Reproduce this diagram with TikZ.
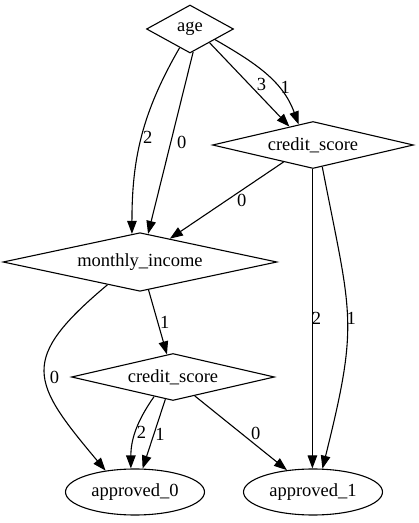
\documentclass[tikz,border=0pt]{standalone}
\usepackage{fontspec}
\setmainfont{Liberation Serif}
\usetikzlibrary{shapes.geometric,arrows.meta}

\begin{document}
\begin{tikzpicture}[x=1pt,y=1pt,
    every node/.style={font=\fontsize{18.5}{20}\selectfont},
    split/.style={diamond,draw,line width=1.1pt,inner sep=0pt,shape aspect=3,minimum height=47pt},
    leaf/.style={ellipse,draw,line width=1.1pt,inner sep=0pt,minimum width=139pt,minimum height=46pt},
    branch/.style={-{Triangle[length=13pt,width=9.5pt]},line width=1.1pt},
    val/.style={inner sep=0pt,pos=.5}]
    \useasboundingbox (0,0) rectangle (419,523);

    % Split nodes
    \node[split,minimum width=87pt,minimum height=48pt] (age) at (190,494) {age};
    \node[split,minimum width=201pt] (score) at (313,378) {credit\_score};
    \node[split,minimum width=274pt] (income) at (140,261) {monthly\_income};
    \node[split,minimum width=203pt] (scoreb) at (173,146) {credit\_score};

    % Leaves
    \node[leaf] (nope) at (135,31) {approved\_0};
    \node[leaf] (yes) at (313,31) {approved\_1};

    % Branches from age
    \draw[branch] (age.241) to[out=240,in=90] node[val,xshift=6pt] {2} (income.106);
    \draw[branch] (age.278) -- node[val,xshift=11pt] {0} (income.74);
    \draw[branch] (age.325) -- node[val,xshift=12pt] {3} (score.142);
    \draw[branch] (age.337) to[out=-30,in=110] node[val,pos=.66,xshift=7pt] {1} (score.125);

    % Branches from credit_score
    \draw[branch] (score.210) -- node[val,xshift=15pt] {0} (income.38);
    \draw[branch] ([xshift=-.6pt]score.south) -- node[val,xshift=4pt] {2} ([xshift=-.6pt]yes.north);
    \draw[branch] (score.293) to[out=-79,in=76,looseness=1.3] node[val,xshift=4pt] {1} (yes.68);

    % Branches from monthly_income
    \draw[branch] (income.287) -- node[val,xshift=7pt] {1} (scoreb.105);
    \draw[branch] (income.215) to[out=220,in=130,looseness=1.6] node[val,pos=.53,xshift=9pt] {0} (nope.144);

    % Branches from the second credit_score
    \draw[branch] (scoreb.226) to[out=235,in=90] node[val,pos=.53,xshift=6pt] {2} (nope.100);
    \draw[branch] (scoreb.251) -- node[val,xshift=6pt] {1} (nope.72);
    \draw[branch] (scoreb.319) -- node[val,xshift=15pt] {0} (yes.140);
\end{tikzpicture}
\end{document}
